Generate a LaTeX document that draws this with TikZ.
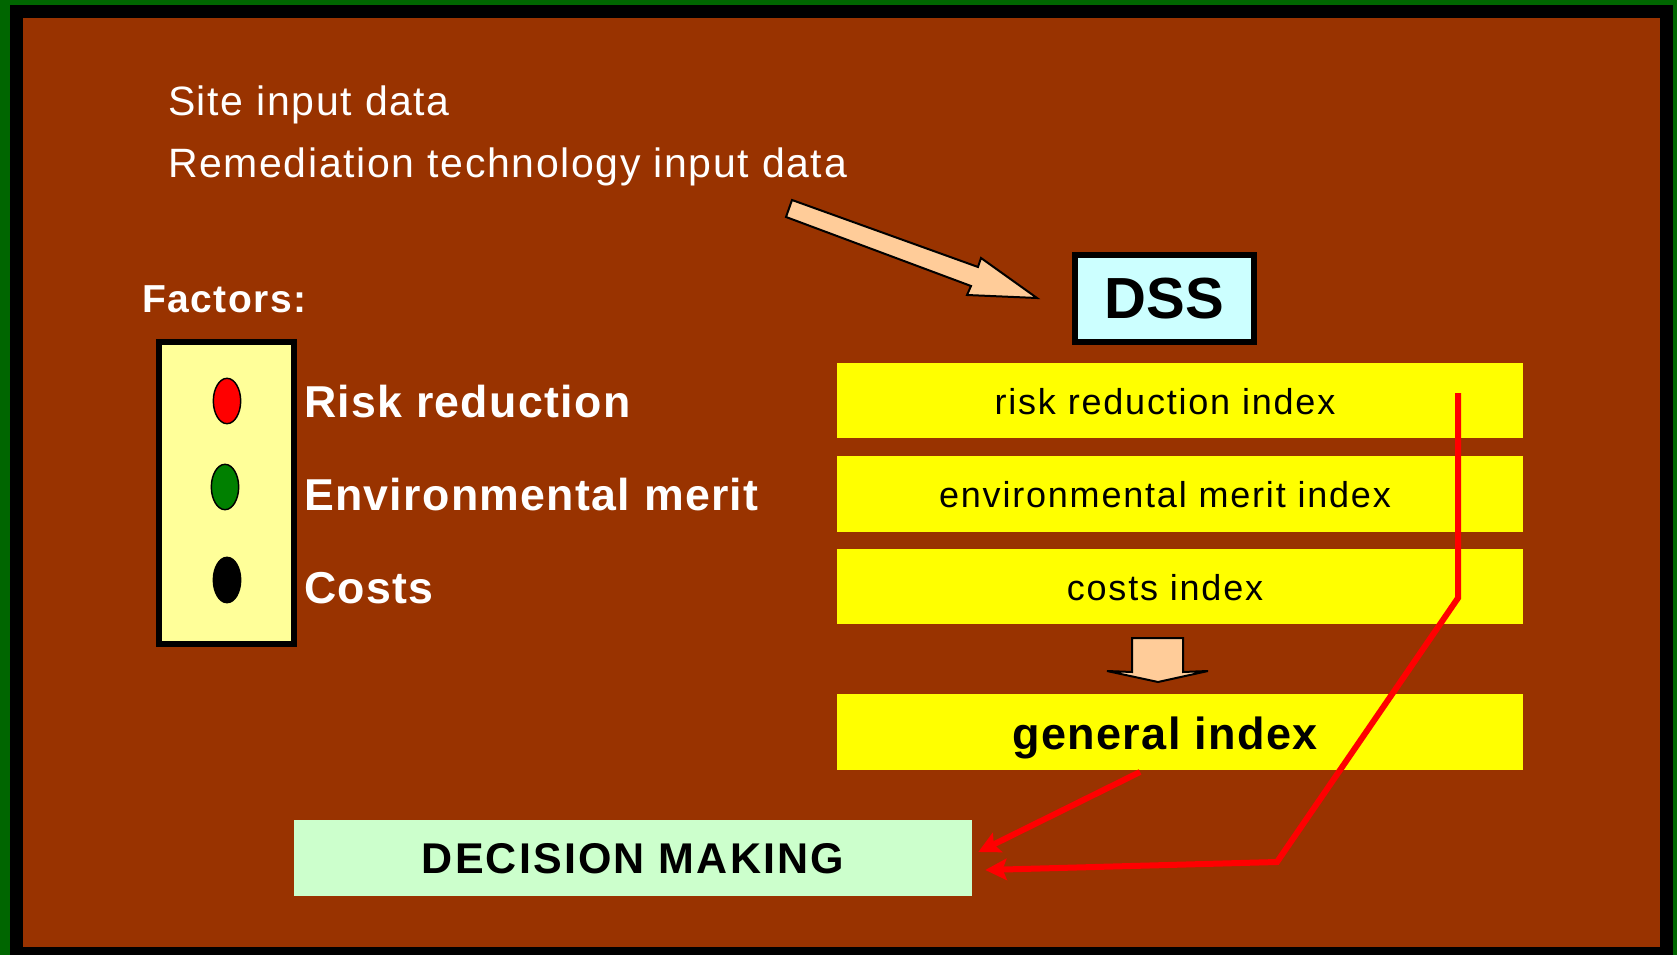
\documentclass[tikz,border=0pt]{standalone}
\usepackage{fontspec}
\setmainfont{Liberation Sans}
\usetikzlibrary{arrows.meta,fit,calc,shapes.geometric}
\definecolor{bgbrown}{HTML}{993300}
\definecolor{frameg}{HTML}{006600}
\definecolor{factfill}{HTML}{FFFF99}
\definecolor{dssfill}{HTML}{CCFFFF}
\definecolor{dmfill}{HTML}{CCFFCC}
\definecolor{blockarrow}{HTML}{FFCC99}
\definecolor{idxyellow}{HTML}{FFFF00}
\definecolor{dotgreen}{HTML}{008000}
\tikzset{
  txt/.style={inner sep=0pt, outer sep=0pt},
  idxbox/.style={inner sep=0pt, outer sep=0pt, fill=idxyellow},
  dot/.style={ellipse, inner sep=0pt, minimum width=20.5pt, minimum height=34pt, draw=black, line width=1.1pt},
  redline/.style={draw=red, line width=4.5pt, -{Stealth[length=16pt,width=16pt,inset=3pt]}},
  blockarr/.style={fill=blockarrow, draw=black, line width=1.5pt, line join=miter},
}
\begin{document}
\begin{tikzpicture}[x=0.75pt,y=-0.75pt]
\useasboundingbox (0,0) rectangle (1677,955);
\fill[frameg] (0,0) rectangle (1677,955);
\fill[black] (10,5) rectangle (1673,955);
\fill[bgbrown] (23,18) rectangle (1660,947);

% input texts
\node[txt, anchor=base west, text=white, font=\fontsize{30.75}{36}\selectfont\addfontfeature{LetterSpace=4}] (site) at (168,116) {Site input data};
\node[txt, anchor=base west, text=white, font=\fontsize{30.75}{36}\selectfont\addfontfeature{LetterSpace=4}] (remed) at (168,178) {Remediation technology input data};

% block arrow towards DSS
\draw[blockarr] (792,200) -- (978,267) -- (981,258) -- (1037,298) -- (967,295) -- (971,286) -- (786,217) -- cycle;

% DSS box
\node[fit={(1075,255) (1254,342)}, inner sep=0pt, draw=black, line width=4.5pt, fill=dssfill] (dss) {};
\node[txt, font=\fontsize{43.5}{50}\selectfont\bfseries] (dsst) at (dss.center) {DSS};

% Factors
\node[txt, anchor=base west, text=white, font=\fontsize{29.25}{34}\selectfont\bfseries\addfontfeature{LetterSpace=4}] (factors) at (142,313) {Factors:};
\node[fit={(159,342) (294,644)}, inner sep=0pt, draw=black, line width=4.5pt, fill=factfill] (fbox) {};
\node[dot, fill=red] (d1) at (227,401) {};
\node[dot, fill=dotgreen] (d2) at (225,487) {};
\node[dot, fill=black] (d3) at (227,580) {};
\node[txt, anchor=base west, text=white, font=\fontsize{33.5}{40}\selectfont\bfseries\addfontfeature{LetterSpace=3}] (f1) at (304,417) {Risk reduction};
\node[txt, anchor=base west, text=white, font=\fontsize{33.5}{40}\selectfont\bfseries\addfontfeature{LetterSpace=3}] (f2) at (304,510) {Environmental merit};
\node[txt, anchor=base west, text=white, font=\fontsize{33.5}{40}\selectfont\bfseries\addfontfeature{LetterSpace=3}] (f3) at (304,603) {Costs};

% index boxes
\node[idxbox, fit={(837,363) (1523,438)}] (rri) {};
\node[idxbox, fit={(837,456) (1523,532)}] (emi) {};
\node[idxbox, fit={(837,549) (1523,624)}] (ci) {};
\node[idxbox, fit={(837,694) (1523,770)}] (gen) {};
\node[txt, anchor=base, font=\fontsize{27}{32}\selectfont\addfontfeature{LetterSpace=5}] (rrit) at (1165,414) {risk reduction index};
\node[txt, anchor=base, font=\fontsize{27}{32}\selectfont\addfontfeature{LetterSpace=5}] (emit) at (1165,507) {environmental merit index};
\node[txt, anchor=base, font=\fontsize{27}{32}\selectfont\addfontfeature{LetterSpace=5}] (cit) at (1165,600) {costs index};
\node[txt, anchor=base, font=\fontsize{33.75}{40}\selectfont\bfseries\addfontfeature{LetterSpace=3}] (gent) at (1165,749) {general index};

% down block arrow
\draw[blockarr] (1132,638) -- (1183,638) -- (1183,672) -- (1208,671) -- (1158,682) -- (1107,671) -- (1132,672) -- cycle;

% decision making
\node[fit={(294,820) (972,896)}, inner sep=0pt, fill=dmfill] (dm) {};
\node[txt, anchor=base, font=\fontsize{32.25}{38}\selectfont\bfseries\addfontfeature{LetterSpace=5}] (dmt) at (633,873) {DECISION MAKING};

% red connectors
\coordinate (bend1) at (1458,598);
\coordinate (bend2) at (1277,862);
\draw[redline] ($(gen.south)+(-40,2)$) -- ($(dm.east)+(6,-6)$);
\draw[redline] ($(rri.east)+(-65,-7.5)$) -- (bend1) -- (bend2) -- ($(dm.east)+(13,12)$);
\end{tikzpicture}
\end{document}
